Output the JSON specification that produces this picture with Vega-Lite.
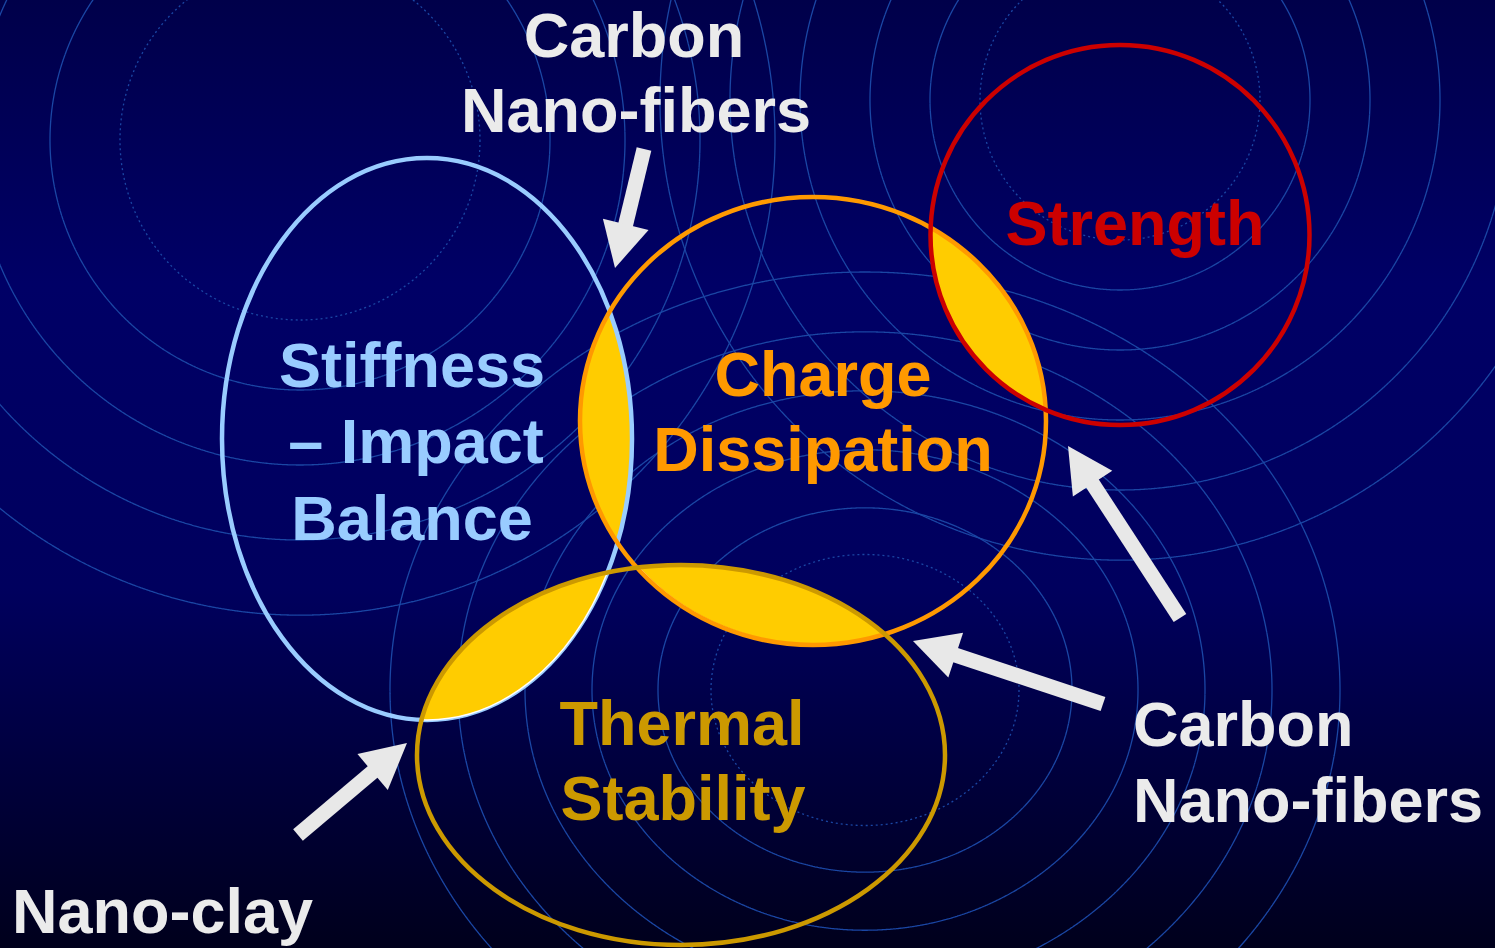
{
  "$schema": "https://vega.github.io/schema/vega-lite/v6.json",
  "width": 1495,
  "height": 948,
  "padding": 0,
  "autosize": {"type": "none"},
  "background": "#000040",
  "config": {"view": {"stroke": null}},
  "datasets": {
    "frame": [{"x0": 0, "x1": 1495, "y0": 0, "y1": 948}],
    "rings": [
      {"set": "A", "cx": 300, "cy": 140, "r": 180, "kind": "inner"},
      {"set": "A", "cx": 300, "cy": 140, "r": 250, "kind": "outer"},
      {"set": "A", "cx": 300, "cy": 140, "r": 325, "kind": "outer"},
      {"set": "A", "cx": 300, "cy": 140, "r": 400, "kind": "outer"},
      {"set": "A", "cx": 300, "cy": 140, "r": 475, "kind": "outer"},
      {"set": "B", "cx": 1120, "cy": 100, "r": 140, "kind": "inner"},
      {"set": "B", "cx": 1120, "cy": 100, "r": 190, "kind": "outer"},
      {"set": "B", "cx": 1120, "cy": 100, "r": 250, "kind": "outer"},
      {"set": "B", "cx": 1120, "cy": 100, "r": 320, "kind": "outer"},
      {"set": "B", "cx": 1120, "cy": 100, "r": 390, "kind": "outer"},
      {"set": "B", "cx": 1120, "cy": 100, "r": 460, "kind": "outer"},
      {"set": "C", "cx": 865, "cy": 690, "r": 154, "kind": "inner"},
      {"set": "C", "cx": 865, "cy": 690, "r": 207, "kind": "outer"},
      {"set": "C", "cx": 865, "cy": 690, "r": 273, "kind": "outer"},
      {"set": "C", "cx": 865, "cy": 690, "r": 340, "kind": "outer"},
      {"set": "C", "cx": 865, "cy": 690, "r": 407, "kind": "outer"},
      {"set": "C", "cx": 865, "cy": 690, "r": 475, "kind": "outer"}
    ],
    "circles": [
      {"name": "Stiffness", "cx": 427, "cy": 439, "rx": 205},
      {"name": "Charge", "cx": 813, "cy": 421, "rx": 233},
      {"name": "Strength", "cx": 1120, "cy": 235, "rx": 189.5},
      {"name": "Thermal", "cx": 681, "cy": 755, "rx": 264}
    ],
    "lenses": [
      {"pair": "Stiffness-Charge", "cx": 613, "cy": 428},
      {"pair": "Charge-Strength", "cx": 988, "cy": 319},
      {"pair": "Charge-Thermal", "cx": 762, "cy": 600},
      {"pair": "Stiffness-Thermal", "cx": 515, "cy": 646}
    ],
    "arrows": [
      {"label": "Carbon Nano-fibers top", "tailx": 644, "taily": 149, "neckx": 624.5, "necky": 229.2, "tipx": 615, "tipy": 268, "heading": 193.8},
      {"label": "Carbon Nano-fibers right 1", "tailx": 1180, "taily": 618, "neckx": 1089.9, "necky": 479.6, "tipx": 1068, "tipy": 446, "heading": 326.9},
      {"label": "Carbon Nano-fibers right 2", "tailx": 1103, "taily": 704, "neckx": 951, "necky": 653.6, "tipx": 913, "tipy": 641, "heading": 288.35},
      {"label": "Nano-clay", "tailx": 298, "taily": 835, "neckx": 376.4, "necky": 768.8, "tipx": 407, "tipy": 743, "heading": 49.83}
    ],
    "labels": [
      {"text": "Carbon", "group": "cnf", "x": 634, "y": 57},
      {"text": "Nano-fibers", "group": "cnf", "x": 636, "y": 132},
      {"text": "Stiffness", "group": "stiff", "x": 412, "y": 387},
      {"text": "– Impact", "group": "stiff", "x": 416, "y": 463},
      {"text": "Balance", "group": "stiff", "x": 412, "y": 540},
      {"text": "Charge", "group": "charge", "x": 823, "y": 396},
      {"text": "Dissipation", "group": "charge", "x": 823, "y": 471},
      {"text": "Strength", "group": "strength", "x": 1135, "y": 245},
      {"text": "Thermal", "group": "thermal", "x": 682, "y": 745},
      {"text": "Stability", "group": "thermal", "x": 683, "y": 820},
      {"text": "Carbon", "group": "cnf2", "x": 1133, "y": 746},
      {"text": "Nano-fibers", "group": "cnf2", "x": 1133, "y": 822},
      {"text": "Nano-clay", "group": "clay", "x": 12, "y": 933}
    ]
  },
  "resolve": {"scale": {"shape": "independent", "stroke": "independent", "strokeDash": "independent", "color": "independent"}},
  "layer": [
    {
      "data": {"name": "frame"},
      "mark": {"type": "rect", "color": {"gradient": "linear", "x1": 0, "y1": 0, "x2": 0, "y2": 1, "stops": [
        {"offset": 0, "color": "#00004a"},
        {"offset": 0.3, "color": "#000066"},
        {"offset": 0.62, "color": "#00005e"},
        {"offset": 1, "color": "#00001c"}
      ]}},
      "encoding": {
        "x": {"field": "x0", "type": "quantitative", "scale": {"domain": [0, 1495], "nice": false, "zero": false}, "axis": null},
        "x2": {"field": "x1"},
        "y": {"field": "y0", "type": "quantitative", "scale": {"domain": [0, 948], "reverse": true, "nice": false, "zero": false}, "axis": null},
        "y2": {"field": "y1"}
      }
    },
    {
      "data": {"name": "rings"},
      "mark": {"type": "point", "filled": false, "stroke": "#1a46a4", "strokeWidth": 1.3, "opacity": 1, "clip": true},
      "encoding": {
        "x": {"field": "cx", "type": "quantitative", "axis": null},
        "y": {"field": "cy", "type": "quantitative", "axis": null},
        "size": {"field": "r", "type": "quantitative", "scale": {"type": "pow", "exponent": 2, "domain": [0, 1000], "range": [0, 4000000]}, "legend": null},
        "shape": {"field": "set", "type": "nominal", "scale": {"domain": ["A", "B", "C"], "range": ["circle", "circle", "M-1,0A1,0.88,0,1,1,1,0A1,0.88,0,1,1,-1,0Z"]}, "legend": null},
        "strokeDash": {"field": "kind", "type": "nominal", "scale": {"domain": ["inner", "outer"], "range": [[2, 3], [1, 0]]}, "legend": null}
      }
    },
    {
      "data": {"name": "lenses"},
      "transform": [{"filter": "datum.pair === 'Stiffness-Charge'"}],
      "mark": {"type": "point", "filled": true, "fill": "#ffcc00", "stroke": "#ffffff", "strokeWidth": 1.5, "opacity": 1, "size": 4},
      "encoding": {
        "x": {"field": "cx", "type": "quantitative", "axis": null},
        "y": {"field": "cy", "type": "quantitative", "axis": null},
        "shape": {"field": "pair", "type": "nominal", "scale": {"domain": ["Stiffness-Charge"], "range": ["M-3.3,-116A233,224,0,0,0,4.5,115A205,281,0,0,0,-3.3,-116Z"]}, "legend": null}
      }
    },
    {
      "data": {"name": "circles"},
      "transform": [{"filter": "datum.name === 'Stiffness'"}],
      "mark": {"type": "point", "filled": false, "strokeWidth": 4.5, "opacity": 1},
      "encoding": {
        "x": {"field": "cx", "type": "quantitative", "axis": null},
        "y": {"field": "cy", "type": "quantitative", "axis": null},
        "size": {"field": "rx", "type": "quantitative", "scale": {"type": "pow", "exponent": 2, "domain": [0, 1000], "range": [0, 4000000]}, "legend": null},
        "shape": {"field": "name", "type": "nominal", "scale": {"domain": ["Stiffness"], "range": ["M-1,0A1,1.3707,0,1,1,1,0A1,1.3707,0,1,1,-1,0Z"]}, "legend": null},
        "stroke": {"field": "name", "type": "nominal", "scale": {"domain": ["Stiffness"], "range": ["#99ccff"]}, "legend": null}
      }
    },
    {
      "data": {"name": "lenses"},
      "transform": [{"filter": "datum.pair !== 'Stiffness-Charge'"}],
      "mark": {"type": "point", "filled": true, "fill": "#ffcc00", "stroke": "#ffffff", "strokeWidth": 1.5, "opacity": 1, "size": 4},
      "encoding": {
        "x": {"field": "cx", "type": "quantitative", "axis": null},
        "y": {"field": "cy", "type": "quantitative", "axis": null},
        "shape": {"field": "pair", "type": "nominal", "scale": {"domain": ["Charge-Strength", "Charge-Thermal", "Stiffness-Thermal"], "range": [
          "M-56.9,-91A233,224,0,0,1,57.7,90.7A189.5,190,0,0,1,-56.9,-91Z",
          "M-123.3,-32.5A264,190,0,0,1,122.7,34.1A233,224,0,0,1,-123.3,-32.5Z",
          "M-93.4,73.8A264,190,0,0,1,92.4,-73.5A205,281,0,0,1,-93.4,73.8Z"
        ]}, "legend": null}
      }
    },
    {
      "data": {"name": "circles"},
      "transform": [{"filter": "datum.name !== 'Stiffness'"}],
      "mark": {"type": "point", "filled": false, "strokeWidth": 4.5, "opacity": 1},
      "encoding": {
        "x": {"field": "cx", "type": "quantitative", "axis": null},
        "y": {"field": "cy", "type": "quantitative", "axis": null},
        "size": {"field": "rx", "type": "quantitative", "scale": {"type": "pow", "exponent": 2, "domain": [0, 1000], "range": [0, 4000000]}, "legend": null},
        "shape": {"field": "name", "type": "nominal", "scale": {"domain": ["Charge", "Strength", "Thermal"], "range": [
          "M-1,0A1,0.9614,0,1,1,1,0A1,0.9614,0,1,1,-1,0Z",
          "M-1,0A1,1.0026,0,1,1,1,0A1,1.0026,0,1,1,-1,0Z",
          "M-1,0A1,0.7197,0,1,1,1,0A1,0.7197,0,1,1,-1,0Z"
        ]}, "legend": null},
        "stroke": {"field": "name", "type": "nominal", "scale": {"domain": ["Charge", "Strength", "Thermal"], "range": ["#ff9900", "#cc0000", "#cc9900"]}, "legend": null}
      }
    },
    {
      "data": {"name": "arrows"},
      "mark": {"type": "rule", "color": "#e8e8e8", "strokeWidth": 15, "strokeCap": "butt"},
      "encoding": {
        "x": {"field": "tailx", "type": "quantitative", "axis": null},
        "y": {"field": "taily", "type": "quantitative", "axis": null},
        "x2": {"field": "neckx"},
        "y2": {"field": "necky"}
      }
    },
    {
      "data": {"name": "arrows"},
      "mark": {"type": "point", "shape": "M0,0L23.5,45L-23.5,45Z", "size": 4, "filled": true, "fill": "#e8e8e8", "strokeWidth": 0, "opacity": 1},
      "encoding": {
        "x": {"field": "tipx", "type": "quantitative", "axis": null},
        "y": {"field": "tipy", "type": "quantitative", "axis": null},
        "angle": {"field": "heading", "type": "quantitative", "scale": null}
      }
    },
    {
      "data": {"name": "labels"},
      "transform": [{"filter": "datum.group !== 'cnf2' && datum.group !== 'clay'"}],
      "mark": {"type": "text", "font": "Liberation Sans", "fontWeight": "bold", "fontSize": 63, "align": "center", "baseline": "alphabetic"},
      "encoding": {
        "x": {"field": "x", "type": "quantitative", "axis": null},
        "y": {"field": "y", "type": "quantitative", "axis": null},
        "text": {"field": "text"},
        "color": {"field": "group", "type": "nominal", "scale": {"domain": ["cnf", "stiff", "charge", "strength", "thermal"], "range": ["#ebebeb", "#99ccff", "#ff9900", "#cc0000", "#cc9900"]}, "legend": null}
      }
    },
    {
      "data": {"name": "labels"},
      "transform": [{"filter": "datum.group === 'cnf2' || datum.group === 'clay'"}],
      "mark": {"type": "text", "font": "Liberation Sans", "fontWeight": "bold", "fontSize": 63, "align": "left", "baseline": "alphabetic", "color": "#ebebeb"},
      "encoding": {
        "x": {"field": "x", "type": "quantitative", "axis": null},
        "y": {"field": "y", "type": "quantitative", "axis": null},
        "text": {"field": "text"}
      }
    }
  ]
}
